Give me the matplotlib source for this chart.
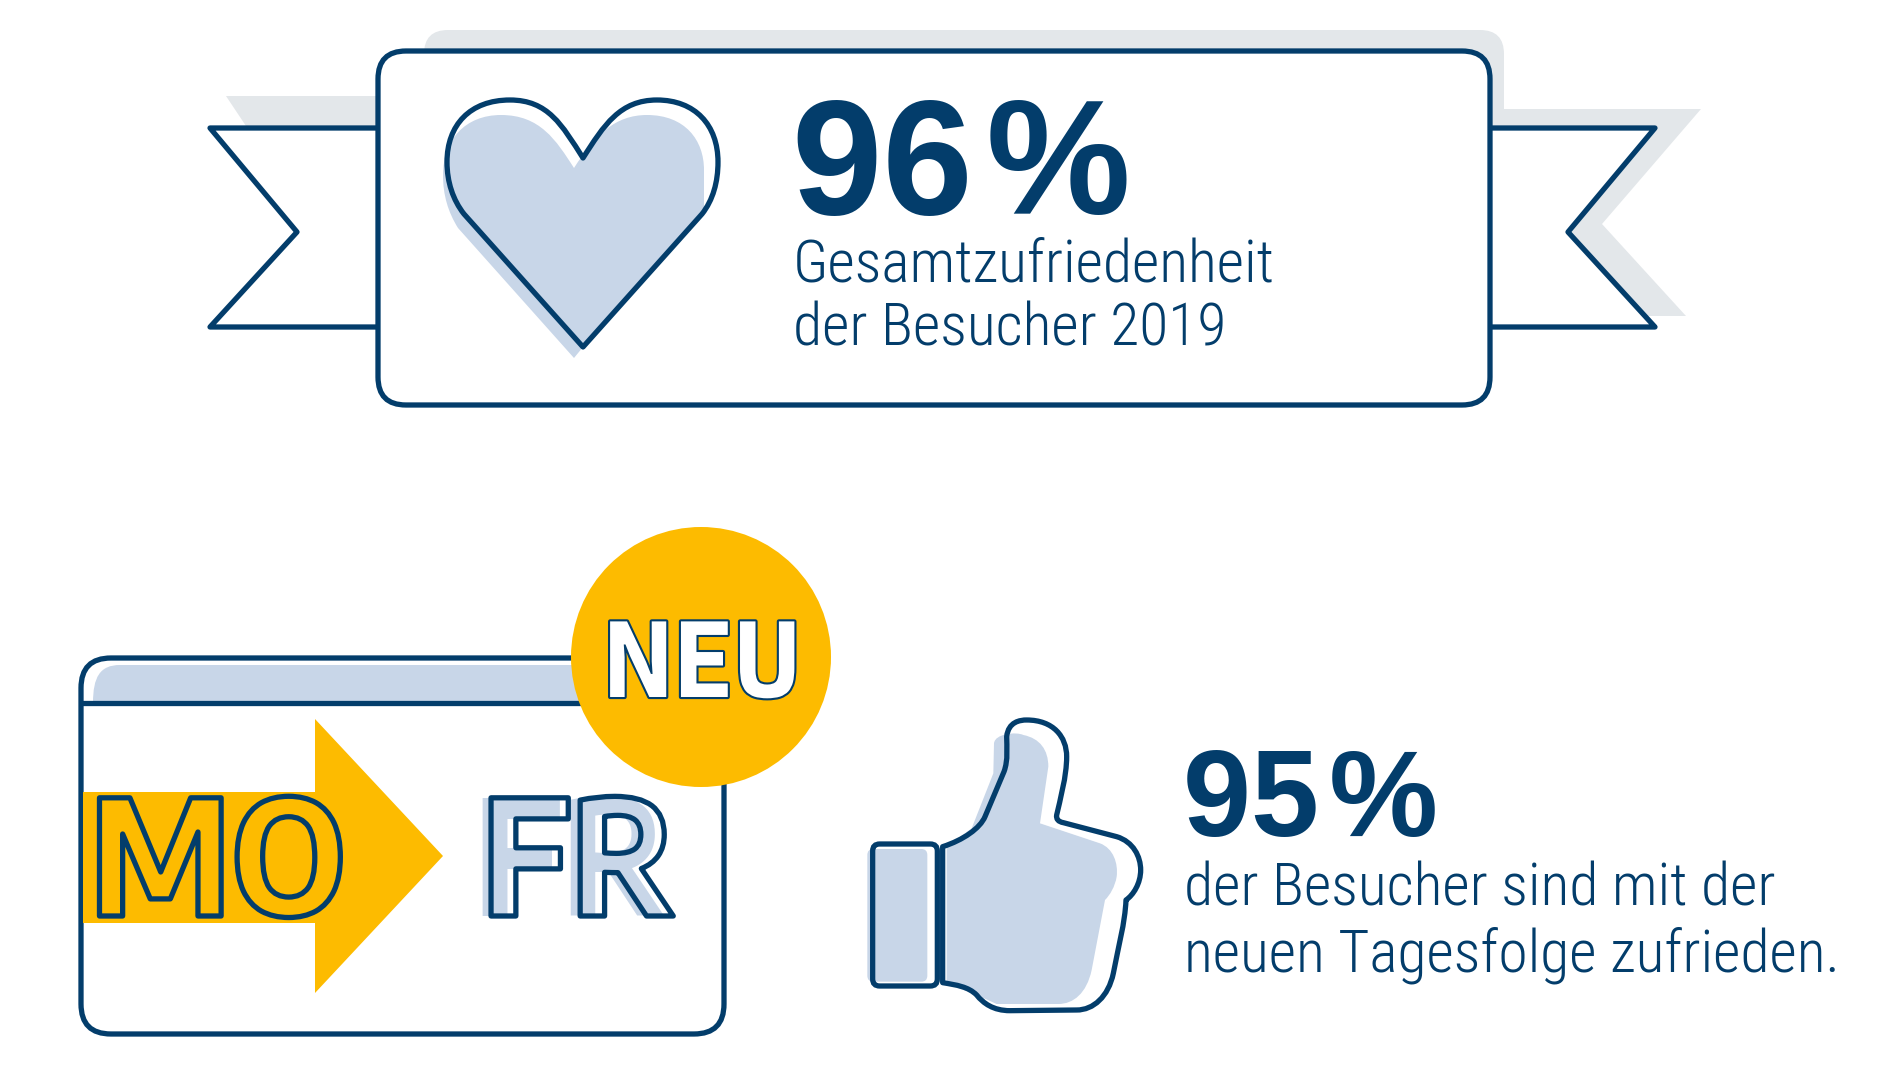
import matplotlib
matplotlib.use('Agg')
import matplotlib.pyplot as plt
import matplotlib.patheffects as pe
from matplotlib.patches import FancyBboxPatch, Polygon, Circle, PathPatch
from matplotlib.path import Path

# text and values
top_value = '96\u200a%'
top_lines = ['Gesamtzufriedenheit', 'der Besucher 2019']
bottom_value = '95\u200a%'
bottom_lines = ['der Besucher sind mit der', 'neuen Tagesfolge zufrieden.']
day_from = 'MO'
day_to = 'FR'
badge = 'NEU'

navy = '#033d6b'
light = '#c8d6e8'
yellow = '#fdbb00'
grey = '#e3e7ea'
body_font = ['Roboto Condensed', 'Roboto', 'DejaVu Sans']
big_font = ['Liberation Sans', 'DejaVu Sans']
icon_font = ['Encode Sans Semi Condensed', 'Roboto Condensed', 'Roboto', 'DejaVu Sans']
badge_font = ['IBM Plex Sans Condensed', 'Roboto Condensed', 'Roboto', 'DejaVu Sans']

fig = plt.figure(figsize=(19, 10.69), dpi=100)
ax = fig.add_axes([0, 0, 1, 1])
ax.set_xlim(0, 1900)
ax.set_ylim(1069, 0)
ax.axis('off')
lw = 3.8


def rbox(x0, y0, x1, y1, r, **kw):
    p = FancyBboxPatch((x0, y0), x1 - x0, y1 - y0, boxstyle=f'round,pad=0,rounding_size={r}', **kw)
    ax.add_patch(p)
    return p


def curve(start, segs, **kw):
    # segs: 3 points is a bezier, 1 point is a straight line
    verts = [start]
    codes = [Path.MOVETO]
    for s in segs:
        verts += s
        codes += [Path.CURVE4] * 3 if len(s) == 3 else [Path.LINETO]
    verts.append(start)
    codes.append(Path.CLOSEPOLY)
    p = PathPatch(Path(verts, codes), **kw)
    ax.add_patch(p)
    return p


# grey shadows
ax.add_patch(Polygon([(226, 96), (385, 96), (385, 135), (252, 135)], fc=grey, ec='none'))
ax.add_patch(Polygon([(1485, 109), (1701, 109), (1602, 224), (1686, 316), (1485, 316)], fc=grey, ec='none'))
rbox(424, 30, 1504, 140, 24, fc=grey, ec='none')

# ribbon
ax.add_patch(Polygon([(385, 128), (210, 128), (297, 232), (210, 327), (385, 327)],
                     closed=False, fc='white', ec=navy, lw=lw, joinstyle='round'))
ax.add_patch(Polygon([(1485, 128), (1655, 128), (1568, 232), (1655, 327), (1485, 327)],
                     closed=False, fc='white', ec=navy, lw=lw, joinstyle='round'))
rbox(378, 51, 1490, 405, 28, fc='white', ec=navy, lw=lw)

# heart
curve((574, 168), [[(556, 140), (540, 115), (501, 115)],
                   [(465, 115), (443, 140), (443, 175)],
                   [(443, 195), (448, 212), (458, 228)],
                   [(574, 358)],
                   [(583, 347)],
                   [(704, 208)],
                   [(704, 195), (704, 185), (704, 170)],
                   [(704, 140), (685, 115), (647, 115)],
                   [(615, 115), (595, 135), (574, 168)]], fc=light, ec='none')
curve((583, 158), [[(562, 125), (548, 100), (510, 100)],
                   [(470, 100), (447, 125), (447, 162)],
                   [(447, 182), (453, 200), (464, 214)],
                   [(583, 347)],
                   [(702, 214)],
                   [(713, 200), (718, 182), (718, 162)],
                   [(718, 125), (695, 100), (657, 100)],
                   [(620, 100), (604, 125), (583, 158)]], fc='none', ec=navy, lw=lw, joinstyle='round')

# top text
ax.text(792, 214, top_value, fontsize=117, fontweight='bold', family=big_font, color=navy, va='baseline')
ax.text(793, 281, top_lines[0], fontsize=43, fontweight='light', family=body_font, color=navy, va='baseline')
ax.text(793, 346, top_lines[1], fontsize=43, fontweight='light', family=body_font, color=navy, va='baseline')

# window
rbox(81, 658, 724, 1034, 30, fc='white', ec=navy, lw=lw)
curve((93, 703), [[(93, 677), (100, 665), (120, 665)], [(600, 665)], [(600, 703)]], fc=light, ec='none')
ax.plot([81, 600], [703, 703], color=navy, lw=lw, solid_capstyle='butt', zorder=1)

# arrow
ax.add_patch(Polygon([(83, 792), (315, 792), (315, 719), (443, 856), (315, 993), (315, 923), (83, 923)],
                     fc=yellow, ec='none'))
ax.text(218, 916, day_from, fontsize=115, fontweight='bold', family=icon_font, color='none', ha='center',
        va='baseline', path_effects=[pe.Stroke(linewidth=lw, foreground=navy)])
ax.text(569, 916, day_to, fontsize=115, fontweight='bold', family=icon_font, color=light, ha='center', va='baseline')
ax.text(578, 916, day_to, fontsize=115, fontweight='bold', family=icon_font, color='none', ha='center',
        va='baseline', path_effects=[pe.Stroke(linewidth=lw, foreground=navy)])

# badge
ax.add_patch(Circle((701, 657), 130, fc=yellow, ec='none'))
ax.text(702, 697, badge, fontsize=78, fontweight='bold', family=badge_font, color='white', ha='center', va='baseline',
        path_effects=[pe.Stroke(linewidth=lw * 0.8, foreground=navy), pe.Normal()])


# thumb, points read in 3x units from (850, 700)
def z(*pts):
    return [(850 + px / 3, 700 + py / 3) for px, py in pts]


curve(z((290, 440))[0], [z((365, 385)), z((430, 220)), z((432, 130)),
                         z((435, 100), (500, 95), (520, 105)),
                         z((570, 115), (595, 150), (595, 200)),
                         z((570, 370)), z((750, 430)),
                         z((790, 445), (805, 490), (800, 530)),
                         z((795, 560), (780, 585), (765, 600)),
                         z((725, 810)),
                         z((710, 880), (670, 912), (625, 912)),
                         z((440, 912)), z((380, 885)), z((290, 850))], fc=light, ec='none')
rbox(850 + 52 / 3, 700 + 447 / 3, 850 + 232 / 3, 700 + 845 / 3, 6, fc=light, ec='none')
rbox(850 + 68 / 3, 700 + 432 / 3, 850 + 262 / 3, 700 + 858 / 3, 7, fc='none', ec=navy, lw=lw)
curve(z((278, 440))[0], [z((340, 420), (390, 385), (405, 350)),
                         z((462, 215)),
                         z((475, 180), (470, 140), (470, 110)),
                         z((475, 65), (510, 60), (530, 60)),
                         z((610, 60), (650, 110), (650, 170)),
                         z((650, 230), (630, 300), (620, 345)),
                         z((618, 358), (625, 365), (640, 368)),
                         z((800, 410)),
                         z((850, 425), (872, 470), (872, 510)),
                         z((872, 550), (850, 585), (828, 600)),
                         z((825, 670), (805, 740), (790, 820)),
                         z((775, 890), (730, 930), (680, 930)),
                         z((480, 932)),
                         z((430, 932), (400, 910), (380, 885)),
                         z((355, 860), (320, 855), (278, 848))],
      fc='none', ec=navy, lw=lw, joinstyle='round')

# bottom text
ax.text(1183, 836, bottom_value, fontsize=88, fontweight='bold', family=big_font, color=navy, va='baseline')
ax.text(1184, 905, bottom_lines[0], fontsize=43, fontweight='light', family=body_font, color=navy, va='baseline')
ax.text(1184, 971, bottom_lines[1], fontsize=43, fontweight='light', family=body_font, color=navy, va='baseline')

fig.savefig('out.png', dpi=100)
